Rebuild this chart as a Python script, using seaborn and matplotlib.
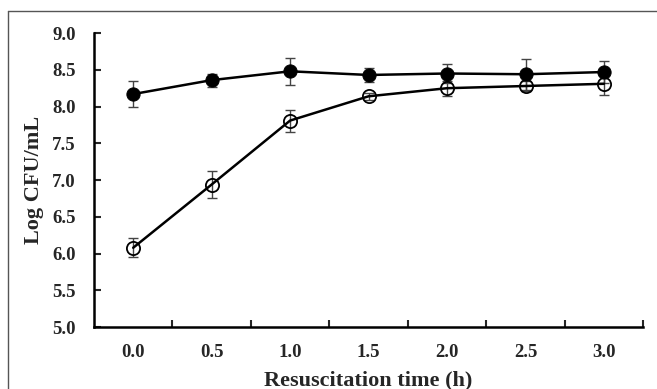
import numpy as np
import pandas as pd
import matplotlib.pyplot as plt
from matplotlib.lines import Line2D
import seaborn as sns

# data
times = ['0.0', '0.5', '1.0', '1.5', '2.0', '2.5', '3.0']
filled_mean = [8.17, 8.36, 8.48, 8.43, 8.45, 8.44, 8.47]
filled_err = [0.18, 0.09, 0.18, 0.10, 0.13, 0.21, 0.15]
open_mean = [6.08, 6.94, 7.81, 8.14, 8.25, 8.28, 8.31]
open_err = [0.13, 0.19, 0.15, 0.05, 0.10, 0.07, 0.15]

sns.set_style('white')
plt.rcParams['font.family'] = ['Liberation Serif', 'DejaVu Serif']
plt.rcParams['font.weight'] = 'bold'

pos = np.arange(len(times))
df = pd.DataFrame({
    'pos': np.concatenate([pos, pos]),
    'logcfu': filled_mean + open_mean,
    'series': ['filled'] * len(times) + ['open'] * len(times),
})

fig = plt.figure(figsize=(6.57, 3.89), dpi=100)
ax = fig.add_axes([0.143, 0.159, 0.836, 0.756])

ax.errorbar(pos, filled_mean, yerr=filled_err, fmt='none', ecolor='#444444',
            elinewidth=1.0, capsize=3.5, capthick=1.0, zorder=1)
ax.errorbar(pos, open_mean, yerr=open_err, fmt='none', ecolor='#444444',
            elinewidth=1.0, capsize=3.5, capthick=1.0, zorder=1)

sns.lineplot(data=df[df.series == 'filled'], x='pos', y='logcfu', ax=ax,
             color='black', linewidth=1.8, marker='o', markersize=9.5,
             markerfacecolor='black', markeredgecolor='black', zorder=3)
sns.lineplot(data=df[df.series == 'open'], x='pos', y='logcfu', ax=ax,
             color='black', linewidth=1.8, marker='o', markersize=9.5,
             markerfacecolor='none', markeredgecolor='black',
             markeredgewidth=1.3, zorder=3)

ax.set_xlim(-0.5, len(times) - 0.5)
ax.set_ylim(5.0, 9.0)
yt = np.arange(5.0, 9.01, 0.5)
ax.set_yticks(yt)
ax.set_yticklabels([f'{v:.1f}' for v in yt])
ax.set_xticks(pos)
ax.set_xticklabels(times)
ax.set_xticks(np.arange(0.5, len(times), 1.0), minor=True)

ax.tick_params(axis='x', which='major', length=0, pad=12, labelsize=13.5)
ax.tick_params(axis='x', which='minor', direction='in', length=5, width=1.5,
               bottom=True)
ax.tick_params(axis='y', direction='in', length=5, width=1.5, pad=13,
               labelsize=13.5, left=True)
for lbl in ax.get_xticklabels() + ax.get_yticklabels():
    lbl.set_fontweight('bold')

for s in ['top', 'right']:
    ax.spines[s].set_visible(False)
for s in ['left', 'bottom']:
    ax.spines[s].set_color('black')
    ax.spines[s].set_linewidth(1.8)

ax.set_xlabel('Resuscitation time (h)', fontsize=16, fontweight='bold', labelpad=7)
ax.set_ylabel('Log CFU/mL', fontsize=16, fontweight='bold', labelpad=6)

# thin frame around the figure (left and top edges visible)
fig.add_artist(Line2D([0.012, 0.012], [0.0, 0.972], color='#555555', lw=1.0,
                      transform=fig.transFigure))
fig.add_artist(Line2D([0.012, 1.0], [0.972, 0.972], color='#555555', lw=1.0,
                      transform=fig.transFigure))

fig.savefig('out.png', dpi=100)
